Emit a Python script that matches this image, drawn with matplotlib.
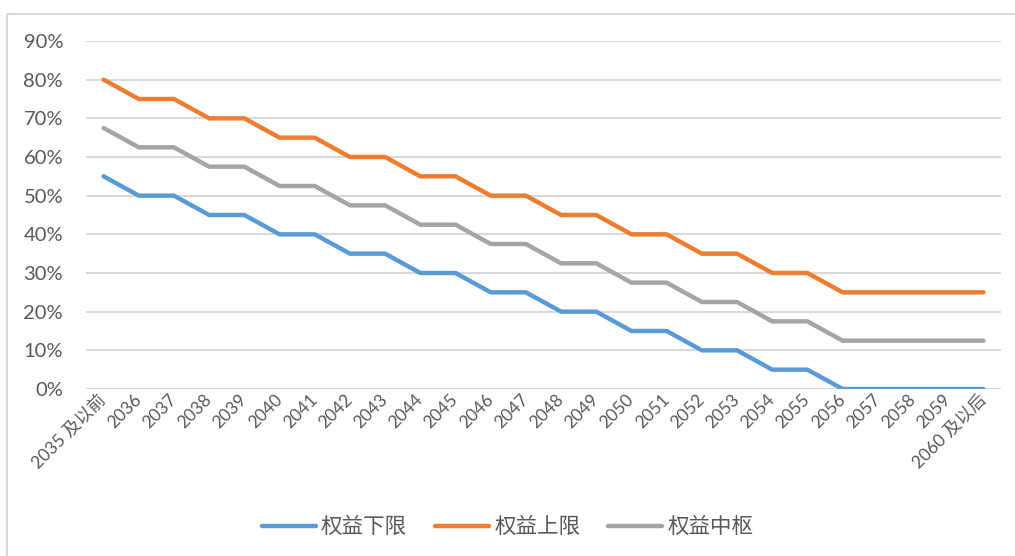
import matplotlib
matplotlib.use("Agg")
import matplotlib.pyplot as plt
from matplotlib.patches import Rectangle

categories = ["2035 及以前"] + [str(y) for y in range(2036, 2060)] + ["2060 及以后"]
lower = [55, 50, 50, 45, 45, 40, 40, 35, 35, 30, 30, 25, 25, 20, 20, 15, 15, 10, 10, 5, 5, 0, 0, 0, 0, 0]
upper = [80, 75, 75, 70, 70, 65, 65, 60, 60, 55, 55, 50, 50, 45, 45, 40, 40, 35, 35, 30, 30, 25, 25, 25, 25, 25]
middle = [67.5, 62.5, 62.5, 57.5, 57.5, 52.5, 52.5, 47.5, 47.5, 42.5, 42.5, 37.5, 37.5, 32.5, 32.5,
          27.5, 27.5, 22.5, 22.5, 17.5, 17.5, 12.5, 12.5, 12.5, 12.5, 12.5]
series_names = ["权益下限", "权益上限", "权益中枢"]
yticks = [0, 10, 20, 30, 40, 50, 60, 70, 80, 90]

fam = ["Lato", "Noto Sans CJK SC", "DejaVu Sans"]
plt.rcParams["font.family"] = fam
txt = "#595959"

fig = plt.figure(figsize=(10.15, 5.56), dpi=100)
# outer border
fig.patches.append(Rectangle((7 / 1015, -0.01), 1.1, 1 - 14.5 / 556 + 0.01, transform=fig.transFigure,
                             fill=False, edgecolor="#D9D9D9", linewidth=1.5))

ax = fig.add_axes([86 / 1015, 1 - 389 / 556, (1001 - 86) / 1015, (389 - 41) / 556])
x = list(range(len(categories)))
colors = ["#5B9BD5", "#ED7D31", "#A5A5A5"]
for vals, c, n in zip([lower, upper, middle], colors, series_names):
    ax.plot(x, vals, color=c, linewidth=3.2, label=n, solid_capstyle="round", solid_joinstyle="round", zorder=3)

ax.set_xlim(-0.5, len(categories) - 0.5)
ax.set_ylim(0, 90)
ax.set_yticks(yticks)
ax.set_yticklabels([f"{v}%" for v in yticks], fontsize=14.5, color=txt)
ax.yaxis.grid(True, color="#D9D9D9", linewidth=1.5)
ax.set_axisbelow(True)
for s in ax.spines.values():
    s.set_visible(False)
ax.tick_params(axis="y", length=0, pad=16.5)
ax.tick_params(axis="x", length=0, pad=6)
ax.set_xticks(x)
ax.set_xticklabels(categories, rotation=45, ha="right", va="center", rotation_mode="anchor",
                   fontsize=12.5, color=txt)

leg = fig.legend(loc="center", bbox_to_anchor=(0.5, 1 - 527 / 556), ncol=3, frameon=False,
                 fontsize=15.5, handlelength=2.5, handletextpad=0.25, columnspacing=1.3,
                 labelcolor=txt)
for h in leg.get_lines():
    h.set_linewidth(3.2)

fig.savefig("out.png", dpi=100)
